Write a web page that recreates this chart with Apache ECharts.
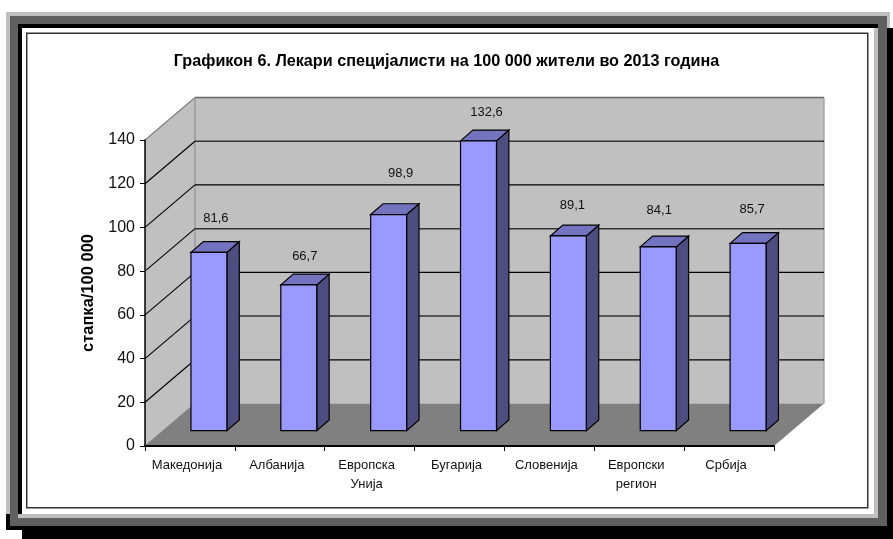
<!DOCTYPE html>
<html>
<head>
<meta charset="utf-8">
<style>html,body{margin:0;padding:0;background:#fff}#c{width:893px;height:539px}</style>
<script src="https://cdn.jsdelivr.net/npm/echarts@6/dist/echarts.min.js"></script>
</head>
<body>
<div id="c"></div>
<script>
const titleText = 'Графикон 6. Лекари специјалисти на 100 000 жители во 2013 година';
const yAxisName = 'стапка/100 000';
const categories = ['Македонија', 'Албанија', 'Европска\nУнија', 'Бугарија', 'Словенија', 'Европски\nрегион', 'Србија'];
const values = [81.6, 66.7, 98.9, 132.6, 89.1, 84.1, 85.7];
const yTicks = [0, 20, 40, 60, 80, 100, 120, 140];
// hand-placed label offsets from the top-centre of each bar's front face
const labelDx = [7, 6, 12, 8, 4, 1, 4];
const labelDy = [-35, -29, -42, -29, -32, -37, -35];

const FONT = '"Liberation Sans", Arial, sans-serif';
const DX = 50, DY = -42.5;          // depth of the 3D box
const FX = 19, FY = -15.3;          // bar front-face offset in the box
const BX = 12.4, BY = -10.8;        // bar depth
const WALL = '#c0c0c0', FLOOR = '#808080', EDGE = '#808080';
const FRONT = '#9999ff', SIDE = '#4d4d80', TOP = '#7373bf';

const poly = (points, fill, stroke, lw) => ({
  type: 'polygon', shape: { points },
  style: { fill, stroke: stroke || 'none', lineWidth: lw || 0 }
});
const line = (x1, y1, x2, y2, stroke, lw) => ({
  type: 'line', shape: { x1, y1, x2, y2 }, style: { stroke, lineWidth: lw }
});
const rect = (x1, y1, x2, y2, fill) => ({
  type: 'rect', z: -1, silent: true,
  shape: { x: x1, y: y1, width: x2 - x1, height: y2 - y1 }, style: { fill }
});

const LIGHT = '#bfbfbf', DARK = '#606060', BLK = '#000000';
const frame = [
  rect(22, 28, 893, 539, BLK),
  rect(6, 513, 22, 530, BLK),
  rect(6, 12, 890, 514, LIGHT),
  rect(887, 28, 893, 539, BLK),
  rect(10, 16, 887, 526, DARK),
  rect(18, 24, 878, 518, LIGHT),
  rect(18, 24, 878, 28, BLK),
  rect(18, 24, 874, 514, BLK),
  rect(22, 28, 874, 514, '#ffffff'),
  { type: 'rect', z: -1, silent: true,
    shape: { x: 26.75, y: 33.25, width: 841, height: 474.5 },
    style: { fill: '#ffffff', stroke: '#333333', lineWidth: 1.5 } }
];

function renderWalls(params, api) {
  const band = api.size([1, 0])[0];
  const o = api.coord([0, 0]);
  const t = api.coord([0, 140]);
  const e = api.coord([categories.length - 1, 0]);
  const x0 = o[0] - band / 2, x1 = e[0] + band / 2, y0 = o[1], y1 = t[1];
  return {
    type: 'group',
    children: [
      poly([[x0 + DX, y0 + DY], [x1 + DX, y0 + DY], [x1 + DX, y1 + DY], [x0 + DX, y1 + DY]], WALL),
      poly([[x0, y0], [x0 + DX, y0 + DY], [x0 + DX, y1 + DY], [x0, y1]], WALL),
      poly([[x0, y0], [x1, y0], [x1 + DX, y0 + DY], [x0 + DX, y0 + DY]], FLOOR),
      line(x0 + DX, y1 + DY, x1 + DX, y1 + DY, '#666666', 1.4),
      line(x0, y1, x0 + DX, y1 + DY, EDGE, 1.2),
      line(x0 + DX, y0 + DY, x0 + DX, y1 + DY, '#999999', 1.4),
      line(x1 + DX, y0 + DY, x1 + DX, y1 + DY, '#999999', 1.2),
      line(x0, y0, x0 + DX, y0 + DY, EDGE, 1)
    ]
  };
}

function renderGrid(params, api) {
  const v = api.value(1);
  if (v === 0 || v === 140) return null;
  const band = api.size([1, 0])[0];
  const p = api.coord([0, v]);
  const e = api.coord([categories.length - 1, v]);
  const x0 = p[0] - band / 2, x1 = e[0] + band / 2, y = p[1];
  const even = (v / 20) % 2 === 0;
  const c = even ? '#333333' : '#000000';
  const lw = even ? 1.5 : 1.2;
  return {
    type: 'group',
    children: [
      line(x0, y, x0 + DX, y + DY, '#000000', 1.1),
      line(x0 + DX, y + DY, x1 + DX, y + DY, c, lw)
    ]
  };
}

function renderBar(params, api) {
  const i = api.value(0), v = api.value(1);
  const band = api.size([1, 0])[0];
  const w = band * 0.4;
  const top = api.coord([i, v]);
  const bot = api.coord([i, 0]);
  const x0 = top[0] + FX - w / 2, x1 = x0 + w;
  const yt = top[1] + FY, yb = bot[1] + FY;
  const K = '#000000';
  return {
    type: 'group',
    children: [
      poly([[x1, yt], [x1 + BX, yt + BY], [x1 + BX, yb + BY], [x1, yb]], SIDE, K, 1.2),
      poly([[x0, yt], [x0 + BX, yt + BY], [x1 + BX, yt + BY], [x1, yt]], TOP, K, 1.2),
      poly([[x0, yt], [x1, yt], [x1, yb], [x0, yb]], FRONT, K, 1.2),
      {
        type: 'text',
        style: {
          x: (x0 + x1) / 2 + labelDx[i], y: yt + labelDy[i] + 1,
          text: String(v).replace('.', ','),
          font: '13px ' + FONT, fill: '#111111',
          align: 'center', verticalAlign: 'middle'
        }
      }
    ]
  };
}

const chart = echarts.init(document.getElementById('c'), null, { renderer: 'canvas' });
chart.setOption({
  animation: false,
  backgroundColor: '#ffffff',
  title: {
    text: titleText, left: 'center', top: 49,
    textStyle: { fontFamily: FONT, fontSize: 16.2, fontWeight: 'bold', color: '#000' }
  },
  graphic: { elements: frame },
  grid: { left: 145, right: 119, top: 140, bottom: 93, containLabel: false },
  xAxis: {
    type: 'category', data: categories, z: 5,
    boundaryGap: true,
    axisLine: { show: true, lineStyle: { color: '#000', width: 2 } },
    axisTick: { show: true, alignWithLabel: false, length: 5, lineStyle: { color: '#000', width: 1 } },
    axisLabel: { interval: 0, margin: 10, fontFamily: FONT, fontSize: 13, color: '#111', lineHeight: 19, padding: [0, 6, 0, 0] },
    splitLine: { show: false }
  },
  yAxis: {
    type: 'value', min: 0, max: 140, interval: 20, z: 5,
    name: yAxisName, nameLocation: 'middle', nameGap: 47, nameRotate: 90,
    nameTextStyle: { fontFamily: FONT, fontSize: 16.5, fontWeight: 'bold', color: '#000' },
    axisLine: { show: true, lineStyle: { color: '#000', width: 1.5 } },
    axisTick: { show: true, length: 5, lineStyle: { color: '#000', width: 1 } },
    axisLabel: { margin: 10, fontFamily: FONT, fontSize: 16, color: '#111', padding: [2, 0, 0, 0] },
    splitLine: { show: false }
  },
  series: [
    { type: 'custom', z: 1, silent: true, renderItem: renderWalls, data: [[0, 0]], encode: { x: 0, y: 1 } },
    { type: 'custom', z: 2, silent: true, renderItem: renderGrid, data: yTicks.map(t => [0, t]), encode: { x: 0, y: 1 } },
    { type: 'custom', z: 3, silent: true, renderItem: renderBar, data: values.map((v, i) => [i, v]), encode: { x: 0, y: 1 } }
  ]
});
</script>
</body>
</html>
